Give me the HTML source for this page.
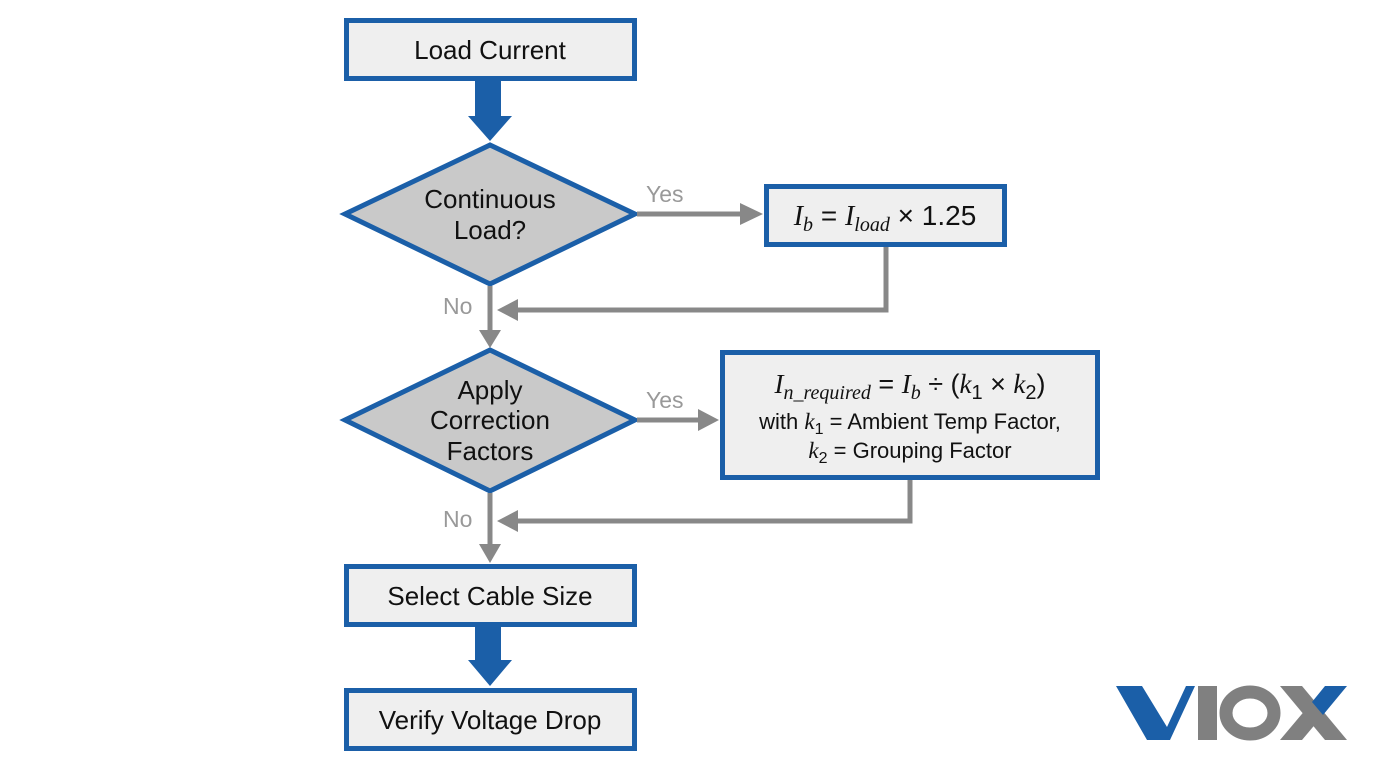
<!DOCTYPE html>
<html><head><meta charset="utf-8"><style>
html,body{margin:0;padding:0;background:#fff;}
svg{display:block}
text{font-family:"Liberation Sans",sans-serif;}
.m{font-family:"Liberation Serif",serif;font-style:italic;}
</style></head><body>
<svg width="1376" height="768" viewBox="0 0 1376 768" xmlns="http://www.w3.org/2000/svg">
<g fill="#efefef" stroke="#1b5fa8" stroke-width="5">
<rect x="346.5" y="20.5" width="288" height="58"/>
<rect x="766.5" y="186.5" width="238" height="58"/>
<rect x="722.5" y="352.5" width="375" height="125"/>
<rect x="346.5" y="566.5" width="288" height="58"/>
<rect x="346.5" y="690.5" width="288" height="58"/>
</g>
<g fill="#c9c9c9" stroke="#1b5fa8" stroke-width="5">
<polygon points="490,145 635,214 490,284 345,214"/>
<polygon points="490,350 635,420 490,491 345,420"/>
</g>
<g fill="#1b5fa8">
<rect x="475" y="81" width="26" height="36"/>
<polygon points="468,116 512,116 490,141"/>
<rect x="475" y="627" width="26" height="36"/>
<polygon points="468,660 512,660 490,686"/>
</g>
<g stroke="#888" stroke-width="5" fill="none">
<line x1="637" y1="214" x2="745" y2="214"/>
<polyline points="886,247 886,310 510,310"/>
<line x1="490" y1="286" x2="490" y2="334"/>
<line x1="637" y1="420" x2="702" y2="420"/>
<polyline points="910,480 910,521 510,521"/>
<line x1="490" y1="493" x2="490" y2="548"/>
</g>
<g fill="#888">
<polygon points="740,203 763,214 740,225"/>
<polygon points="497,310 518,299 518,321"/>
<polygon points="479,330 501,330 490,348"/>
<polygon points="698,409 719,420 698,431"/>
<polygon points="497,521 518,510 518,532"/>
<polygon points="479,544 501,544 490,563"/>
</g>
<g fill="#999" font-size="23">
<text x="646" y="202">Yes</text>
<text x="443" y="314">No</text>
<text x="646" y="408">Yes</text>
<text x="443" y="527">No</text>
</g>
<g fill="#111" font-size="26" text-anchor="middle">
<text x="490" y="59">Load Current</text>
<text x="490" y="208">Continuous</text>
<text x="490" y="239">Load?</text>
<text x="490" y="399">Apply</text>
<text x="490" y="429">Correction</text>
<text x="490" y="460">Factors</text>
<text x="490" y="605">Select Cable Size</text>
<text x="490" y="729">Verify Voltage Drop</text>
</g>
<text x="885" y="225" font-size="28" text-anchor="middle" fill="#111"><tspan class="m">I</tspan><tspan class="m" font-size="20" dy="6">b</tspan><tspan dy="-6"> = </tspan><tspan class="m">I</tspan><tspan class="m" font-size="20" dy="6">load</tspan><tspan dy="-6"> × 1.25</tspan></text>
<text x="910" y="393" font-size="27" text-anchor="middle" fill="#111" font-family="Liberation Serif,serif"><tspan class="m">I</tspan><tspan class="m" font-size="20" dy="6">n_required</tspan><tspan dy="-6"> = </tspan><tspan class="m">I</tspan><tspan class="m" font-size="20" dy="6">b</tspan><tspan dy="-6"> ÷ (</tspan><tspan class="m">k</tspan><tspan font-size="20" dy="6">1</tspan><tspan dy="-6"> × </tspan><tspan class="m">k</tspan><tspan font-size="20" dy="6">2</tspan><tspan dy="-6">)</tspan></text>
<text x="910" y="429" font-size="22" text-anchor="middle" fill="#111">with <tspan class="m" font-size="23">k</tspan><tspan font-size="16" dy="5">1</tspan><tspan dy="-5"> = Ambient Temp Factor,</tspan></text>
<text x="910" y="458" font-size="22" text-anchor="middle" fill="#111"><tspan class="m" font-size="23">k</tspan><tspan font-size="16" dy="5">2</tspan><tspan dy="-5"> = Grouping Factor</tspan></text>
<!-- logo -->
<polygon points="1116,686 1142,686 1167,727 1186,686 1195,686 1170,740 1147,740" fill="#1b5fa8"/>
<rect x="1198" y="686" width="19" height="54" fill="#808080"/>
<ellipse cx="1250" cy="713" rx="24" ry="21" fill="none" stroke="#808080" stroke-width="13"/>
<polygon points="1280,686 1302,686 1347,740 1325,740" fill="#808080"/>
<polygon points="1280,740 1302,740 1323,715 1312,702" fill="#808080"/>
<polygon points="1312,702 1323,715 1347,686 1325,686" fill="#1b5fa8"/>
</svg>
</body></html>
